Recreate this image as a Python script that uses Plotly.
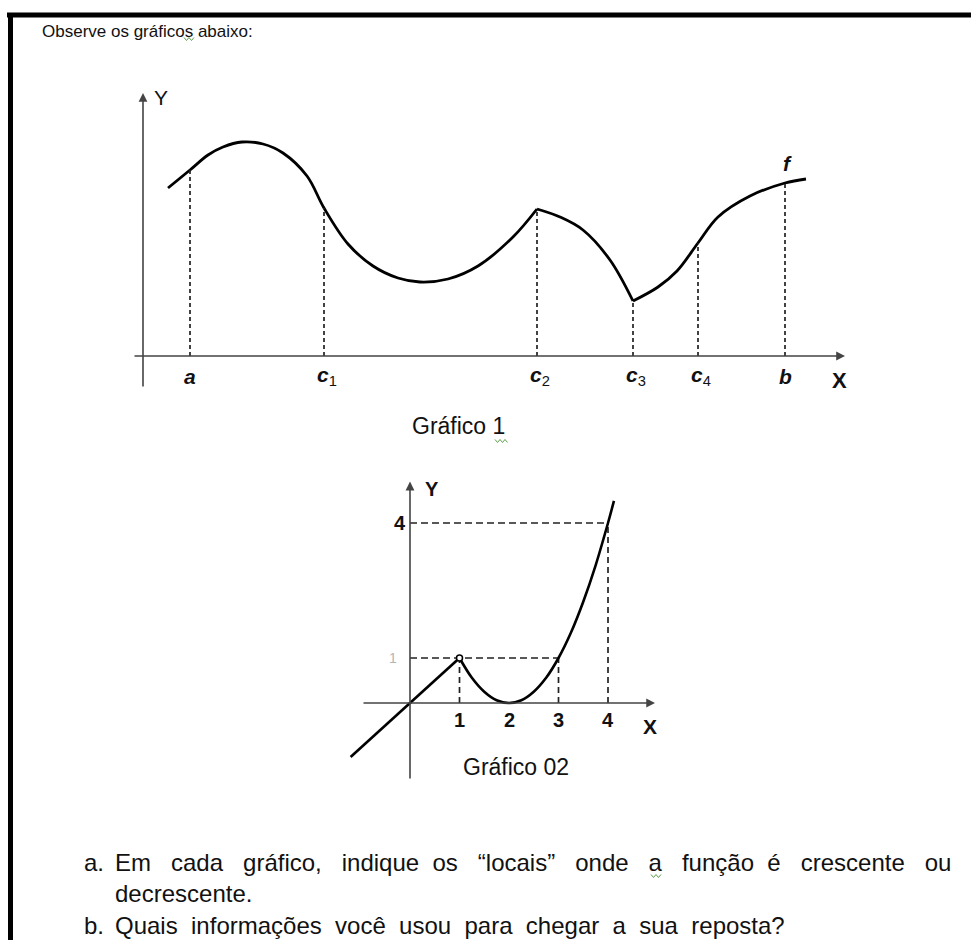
import plotly.graph_objects as go

W, H = 971, 940
FONT = "Liberation Sans, Arial, sans-serif"
INK = "#111111"

# ---------------- Gráfico 1: curva f no intervalo [a, b] ----------------
g1_seg1_x = [0.25, 0.47, 0.65, 0.80, 0.99, 1.20, 1.40, 1.64, 1.81, 2.05, 2.30, 2.55, 2.77, 3.05, 3.35, 3.70, 3.94]
g1_seg1_y = [1.68, 1.86, 2.01, 2.09, 2.14, 2.12, 2.03, 1.80, 1.48, 1.12, 0.90, 0.78, 0.74, 0.77, 0.90, 1.19, 1.47]
g1_seg2_x = [3.94, 4.17, 4.40, 4.67, 4.90]
g1_seg2_y = [1.47, 1.39, 1.26, 0.96, 0.55]
g1_seg3_x = [4.90, 5.15, 5.34, 5.55, 5.75, 6.07, 6.42, 6.63]
g1_seg3_y = [0.55, 0.69, 0.85, 1.13, 1.39, 1.60, 1.73, 1.77]

g1_mark_labels = ["<b><i>a</i></b>", "<b><i>c</i></b><sub>1</sub>", "<b><i>c</i></b><sub>2</sub>",
                  "<b><i>c</i></b><sub>3</sub>", "<b><i>c</i></b><sub>4</sub>", "<b><i>b</i></b>"]
g1_mark_x = [0.47, 1.81, 3.94, 4.90, 5.55, 6.42]
g1_mark_y = [1.86, 1.48, 1.47, 0.55, 1.13, 1.73]

# ---------------- Gráfico 02 ----------------
g2_line_x = [-1.2, 0.0, 1.0]
g2_line_y = [-1.2, 0.0, 1.0]
g2_curve_x = [1.0, 1.25, 1.5, 1.75, 2.0, 2.25, 2.5, 2.75, 3.0, 3.25, 3.5, 3.75, 4.0, 4.12]
g2_curve_y = [1.0, 0.56, 0.25, 0.06, 0.0, 0.06, 0.25, 0.56, 1.0, 1.56, 2.25, 3.06, 4.0, 4.49]
g2_xticks = [1, 2, 3, 4]
g2_ytick_vals = [1, 4]
g2_ytick_text = ["1", "4"]
g2_points_x = [1, 3, 4]
g2_points_y = [1, 1, 4]

fig = go.Figure()

# curva do gráfico 1 (três trechos: bicos em c2 e c3)
for xs, ys in [(g1_seg1_x, g1_seg1_y), (g1_seg2_x, g1_seg2_y), (g1_seg3_x, g1_seg3_y)]:
    fig.add_trace(go.Scatter(x=xs, y=ys, mode="lines", xaxis="x", yaxis="y",
                             line=dict(color="#000", width=2.8, shape="spline", smoothing=1.0),
                             hoverinfo="skip", showlegend=False))

# linhas tracejadas verticais do gráfico 1
for mx, my in zip(g1_mark_x, g1_mark_y):
    fig.add_trace(go.Scatter(x=[mx, mx], y=[0, my], mode="lines", xaxis="x", yaxis="y",
                             line=dict(color="#222", width=1.7, dash="4px,3px"),
                             hoverinfo="skip", showlegend=False))

# linhas-guia tracejadas do gráfico 02
for px_, py_ in zip(g2_points_x, g2_points_y):
    fig.add_trace(go.Scatter(x=[px_, px_], y=[0, py_], mode="lines", xaxis="x2", yaxis="y2",
                             line=dict(color="#222", width=1.7, dash="6px,4px"),
                             hoverinfo="skip", showlegend=False))
for yv, xend in [(1, 3), (4, 4)]:
    fig.add_trace(go.Scatter(x=[0, xend], y=[yv, yv], mode="lines", xaxis="x2", yaxis="y2",
                             line=dict(color="#222", width=1.7, dash="7px,4px"),
                             hoverinfo="skip", showlegend=False))

# curva do gráfico 02
fig.add_trace(go.Scatter(x=g2_line_x, y=g2_line_y, mode="lines", xaxis="x2", yaxis="y2",
                         line=dict(color="#000", width=2.6), hoverinfo="skip", showlegend=False))
fig.add_trace(go.Scatter(x=g2_curve_x, y=g2_curve_y, mode="lines", xaxis="x2", yaxis="y2",
                         line=dict(color="#000", width=2.6, shape="spline", smoothing=1.0),
                         hoverinfo="skip", showlegend=False))
fig.add_trace(go.Scatter(x=[g2_line_x[-1]], y=[g2_line_y[-1]], mode="markers", xaxis="x2", yaxis="y2",
                         marker=dict(size=6, color="white", line=dict(color="#000", width=1.5)),
                         hoverinfo="skip", showlegend=False))


def dom_x(p0, p1):
    return [p0 / W, p1 / W]


def dom_y(top, bottom):
    return [1 - bottom / H, 1 - top / H]


hidden = dict(showgrid=False, zeroline=False, showticklabels=False, showline=False,
              ticks="", fixedrange=True)

# gráfico 1: origem em (143, 356) px, 100 px por unidade
g1_x_range = [(100 - 143) / 100, (900 - 143) / 100]
g1_y_range = [(356 - 400) / 100, (356 - 80) / 100]
# gráfico 02: origem em (410, 703) px
g2_x_range = [(330 - 410) / 49.5, (680 - 410) / 49.5]
g2_y_range = [(703 - 790) / 45, (703 - 470) / 45]

annotations = []


def arrow(x, y, ax, ay, xr, yr, width=1.5, color="#444"):
    annotations.append(dict(x=x, y=y, ax=ax, ay=ay, xref=xr, yref=yr, axref=xr, ayref=yr,
                            text="", showarrow=True, arrowhead=2, arrowsize=1.1,
                            arrowwidth=width, arrowcolor=color))


def label(text, x, y, xr, yr, size, xanchor="center", yanchor="middle", color=INK):
    annotations.append(dict(text=text, x=x, y=y, xref=xr, yref=yr, showarrow=False,
                            xanchor=xanchor, yanchor=yanchor,
                            font=dict(family=FONT, size=size, color=color)))


# eixos do gráfico 1
arrow(0, 2.63, 0, -0.32, "x", "y", width=1.6)
arrow(7.02, 0, -0.10, 0, "x", "y", width=1.6)
label("Y", 0.18, 2.59, "x", "y", 21)
label("<b>X</b>", 6.96, -0.24, "x", "y", 22)
label("<b><i>f</i></b>", 6.44, 1.93, "x", "y", 21)
for lab, mx in zip(g1_mark_labels, g1_mark_x):
    label(lab, mx + (0.03 if "sub" in lab else 0), -0.20, "x", "y", 21)

# eixos do gráfico 02
arrow(0, 4.92, 0, -1.71, "x2", "y2", width=1.6)
arrow(4.95, 0, -0.97, 0, "x2", "y2", width=1.6)
label("<b>Y</b>", 0.45, 4.76, "x2", "y2", 20)
label("<b>X</b>", 4.85, -0.53, "x2", "y2", 21)
for t in g2_xticks:
    label("<b>%d</b>" % t, t, -0.38, "x2", "y2", 20)
label("<b>%s</b>" % g2_ytick_text[1], -0.21, g2_ytick_vals[1], "x2", "y2", 20)
label(g2_ytick_text[0], -0.34, g2_ytick_vals[0], "x2", "y2", 14, color="#b5b5b5")


# títulos e enunciado
def page_label(text, px, py, size, xanchor="left"):
    label(text, px / W, 1 - py / H, "paper", "paper", size, xanchor=xanchor)


def spaced(words, gaps):
    out = words[0]
    for w, g in zip(words[1:], gaps):
        out += " " + "\u00a0" * g + w
    return out


line_a = spaced(["Em", "cada", "gráfico,", "indique", "os", "“locais”", "onde", "a", "função", "é",
                 "crescente", "ou"], [2, 2, 2, 1, 2, 2, 2, 2, 1, 2, 2])
line_b = spaced(["Quais", "informações", "você", "usou", "para", "chegar", "a", "sua", "reposta?"],
                [1] * 8)

page_label("Observe os gráficos abaixo:", 40, 31, 17)
page_label("Gráfico 1", 458, 426, 23, xanchor="center")
page_label("Gráfico 02", 516, 767, 23, xanchor="center")
page_label("a.", 82, 862, 24)
page_label(line_a, 113, 862, 24)
page_label("decrescente.", 113, 893, 24)
page_label("b.", 82, 925, 24)
page_label(line_b, 113, 925, 24)


# sublinhados ondulados verdes do corretor
def squiggle(x0, x1, y, amp=1.5, step=2.5):
    pts = []
    x = x0
    up = True
    while x <= x1:
        pts.append((x / W, 1 - (y + (-amp if up else amp)) / H))
        x += step
        up = not up
    return "M " + " L ".join("%.5f,%.5f" % p for p in pts)


shapes = [
    dict(type="line", xref="paper", yref="paper", x0=7 / W, x1=1, y0=1 - 15 / H, y1=1 - 15 / H,
         line=dict(color="#000", width=5)),
    dict(type="line", xref="paper", yref="paper", x0=10.5 / W, x1=10.5 / W, y0=0, y1=1 - 13 / H,
         line=dict(color="#000", width=5)),
]
for sx0, sx1, sy in [(184, 194, 39), (495, 509, 441), (651, 663, 876)]:
    shapes.append(dict(type="path", xref="paper", yref="paper", path=squiggle(sx0, sx1, sy),
                       line=dict(color="#5fa04a", width=1)))

fig.update_layout(
    width=W, height=H,
    margin=dict(l=0, r=0, t=0, b=0),
    paper_bgcolor="white", plot_bgcolor="rgba(0,0,0,0)",
    showlegend=False,
    xaxis=dict(domain=dom_x(100, 900), range=g1_x_range, anchor="y", **hidden),
    yaxis=dict(domain=dom_y(80, 400), range=g1_y_range, anchor="x", **hidden),
    xaxis2=dict(domain=dom_x(330, 680), range=g2_x_range, anchor="y2", **hidden),
    yaxis2=dict(domain=dom_y(470, 790), range=g2_y_range, anchor="x2", **hidden),
    annotations=annotations,
    shapes=shapes,
)

fig.write_html("out.html", config=dict(displayModeBar=False))
